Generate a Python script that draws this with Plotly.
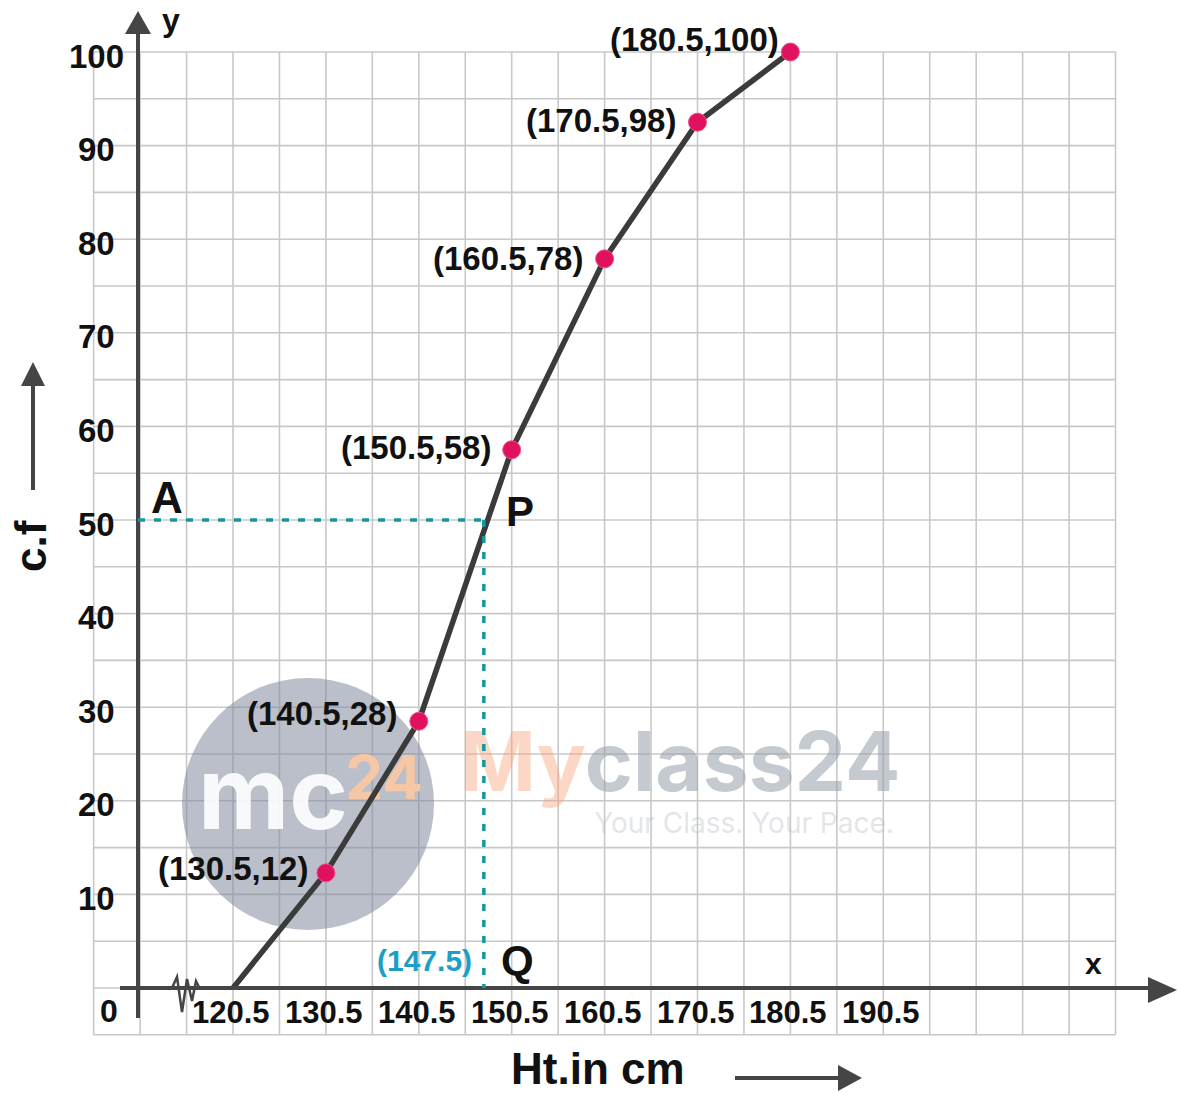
import plotly.graph_objects as go

# ---------------- data ----------------
upper_class_limits = [120.5, 130.5, 140.5, 150.5, 160.5, 170.5, 180.5]
cumulative_freq = [0, 12.3, 28.5, 57.5, 77.9, 92.5, 100]   # as drawn in the picture
point_labels = ["(130.5,12)", "(140.5,28)", "(150.5,58)", "(160.5,78)",
                "(170.5,98)", "(180.5,100)"]
x_tick_vals = [120.5, 130.5, 140.5, 150.5, 160.5, 170.5, 180.5, 190.5]
x_tick_labels = ["120.5", "130.5", "140.5", "150.5", "160.5", "170.5", "180.5", "190.5"]
y_tick_vals = [10, 20, 30, 40, 50, 60, 70, 80, 90, 100]
y_tick_labels = ["10", "20", "30", "40", "50", "60", "70", "80", "90", "100"]
median_cf = 50
median_x = 147.5
median_label = "(147.5)"

# ---------------- geometry helpers (pixel <-> data) ----------------
W, H = 1178, 1093
X0_PX, X0, SX = 233.0, 120.5, 9.29
Y0_PX, SY = 988.0, 9.36


def px2x(p):
    return X0 + (p - X0_PX) / SX


def py2y(p):
    return (Y0_PX - p) / SY


x_range = [px2x(0), px2x(W)]
y_range = [py2y(H), py2y(0)]

FONT = "Liberation Sans, Arial, Helvetica, sans-serif"
WM_FONT = "Inter, Lato, sans-serif"
AXIS_COL = "#454545"
GRID_COL = "#c8c8c8"
TEAL = "#16979f"

fig = go.Figure()

# ---------------- watermark (drawn beneath the curve) ----------------
fig.add_trace(go.Scatter(x=[px2x(273)], y=[py2y(804)], mode="text", text=["mc"],
                         textfont=dict(family=WM_FONT, size=100, weight="bold",
                                       color="rgba(255,255,255,0.9)"),
                         hoverinfo="skip", showlegend=False))
fig.add_trace(go.Scatter(x=[px2x(384)], y=[py2y(784)], mode="text", text=["24"],
                         textfont=dict(family=WM_FONT, size=60, weight="bold",
                                       color="#f6c7a4"),
                         hoverinfo="skip", showlegend=False))
fig.add_trace(go.Scatter(x=[px2x(680)], y=[py2y(770)], mode="text",
                         text=["<span style='color:rgba(250,160,120,0.42)'>My</span>"
                               "<span style='color:rgba(150,158,172,0.55)'>class24</span>"],
                         textfont=dict(family=WM_FONT, size=82, weight="bold"),
                         hoverinfo="skip", showlegend=False))
fig.add_trace(go.Scatter(x=[px2x(744)], y=[py2y(826)], mode="text",
                         text=["Your Class. Your Pace."],
                         textfont=dict(family=WM_FONT, size=28,
                                       color="rgba(185,188,198,0.4)"),
                         hoverinfo="skip", showlegend=False))

# ---------------- ogive ----------------
fig.add_trace(go.Scatter(x=upper_class_limits, y=cumulative_freq, mode="lines",
                         line=dict(color="#3b3b3b", width=5.5),
                         hoverinfo="skip", showlegend=False))
fig.add_trace(go.Scatter(x=upper_class_limits[1:], y=cumulative_freq[1:], mode="markers",
                         marker=dict(color="#e0115f", size=18,
                                     line=dict(color="#f0508a", width=1)),
                         hoverinfo="skip", showlegend=False))

shapes = []
# grid
gx0, gx1, gy0, gy1 = 105.5, 215.5, -5, 100
for k in range(23):
    xv = gx0 + 5 * k
    shapes.append(dict(type="line", x0=xv, x1=xv, y0=gy0, y1=gy1, layer="below",
                       line=dict(color=GRID_COL, width=1.6)))
for k in range(22):
    yv = gy0 + 5 * k
    shapes.append(dict(type="line", x0=gx0, x1=gx1, y0=yv, y1=yv, layer="below",
                       line=dict(color=GRID_COL, width=1.6)))

# watermark circle
shapes.append(dict(type="circle", x0=px2x(182), x1=px2x(434), y0=py2y(930), y1=py2y(678),
                   fillcolor="rgba(130,138,158,0.55)", line=dict(width=0), layer="below"))

# axes
ax_x = px2x(138)
shapes.append(dict(type="line", x0=ax_x, x1=ax_x, y0=py2y(1018), y1=py2y(30),
                   line=dict(color=AXIS_COL, width=4), layer="above"))
shapes.append(dict(type="line", x0=px2x(120), x1=px2x(1152), y0=0, y1=0,
                   line=dict(color=AXIS_COL, width=4), layer="above"))


def tri(pts):
    s = "M " + " L ".join(f"{px2x(a)},{py2y(b)}" for a, b in pts) + " Z"
    return dict(type="path", path=s, fillcolor=AXIS_COL, line=dict(width=0), layer="above")


shapes.append(tri([(138, 11), (125, 34), (151, 34)]))          # y-axis head
shapes.append(tri([(1177, 990), (1148, 977), (1148, 1003)]))   # x-axis head

# axis break zigzag
zz = [(172, 988), (177, 977), (182, 1012), (187, 979), (192, 1001), (196, 981), (200, 989)]
shapes.append(dict(type="path",
                   path="M " + " L ".join(f"{px2x(a)},{py2y(b)}" for a, b in zz),
                   line=dict(color=AXIS_COL, width=2.5), layer="above"))

# median guide lines
shapes.append(dict(type="line", x0=ax_x, x1=median_x, y0=median_cf, y1=median_cf,
                   line=dict(color=TEAL, width=3.5, dash="7px,9px"), layer="above"))
shapes.append(dict(type="line", x0=median_x, x1=median_x, y0=median_cf, y1=0,
                   line=dict(color=TEAL, width=3.5, dash="7px,9px"), layer="above"))

# side arrows (c.f and Ht)
shapes.append(dict(type="line", x0=px2x(33), x1=px2x(33), y0=py2y(490), y1=py2y(380),
                   line=dict(color=AXIS_COL, width=4), layer="above"))
shapes.append(tri([(33, 362), (21, 386), (45, 386)]))
shapes.append(dict(type="line", x0=px2x(735), x1=px2x(842), y0=py2y(1078), y1=py2y(1078),
                   line=dict(color=AXIS_COL, width=4), layer="above"))
shapes.append(tri([(862, 1078), (838, 1065), (838, 1091)]))

annotations = []


def txt(x, y, text, size, color="#111111", weight="bold", xanchor="center",
        yanchor="middle", xshift=0, yshift=0, angle=0, family=FONT):
    annotations.append(dict(x=x, y=y, text=text, showarrow=False, xanchor=xanchor,
                            yanchor=yanchor, xshift=xshift, yshift=yshift,
                            textangle=angle,
                            font=dict(family=family, size=size, color=color,
                                      weight=weight)))


# tick labels
for v, lab in zip(x_tick_vals, x_tick_labels):
    txt(v, py2y(1012), lab, 31, xshift=-2)
for v, lab in zip(y_tick_vals, y_tick_labels):
    txt(px2x(96), v, lab, 33, yshift=-4)
txt(px2x(109), py2y(1011), "0", 32)

# point labels
label_shift = [(-16, 4), (-20, 8), (-19, 2), (-20, 0), (-20, 2), (-9, 13)]
for xv, yv, lab, (dx, dy) in zip(upper_class_limits[1:], cumulative_freq[1:],
                                 point_labels, label_shift):
    txt(xv, yv, lab, 33, xanchor="right", xshift=dx, yshift=dy)

# letters and axis names
txt(px2x(167), py2y(497), "A", 44)
txt(px2x(520), py2y(511), "P", 42)
txt(px2x(517), py2y(960), "Q", 42)
txt(px2x(424), py2y(960), median_label, 30, color="#1a9fc6")
txt(px2x(171), py2y(20), "y", 32)
txt(px2x(1093), py2y(963), "x", 30)
txt(px2x(598), py2y(1068), "Ht.in cm", 44)
txt(px2x(30), py2y(546), "c.f", 44, angle=-90)

fig.update_layout(
    width=W, height=H,
    margin=dict(l=0, r=0, t=0, b=0, pad=0),
    paper_bgcolor="white", plot_bgcolor="white",
    xaxis=dict(range=x_range, visible=False, fixedrange=True),
    yaxis=dict(range=y_range, visible=False, fixedrange=True),
    shapes=shapes, annotations=annotations, showlegend=False,
)

fig.write_html("out.html", include_plotlyjs=True,
               config={"displayModeBar": False},
               post_script="document.body.style.margin='0';")
